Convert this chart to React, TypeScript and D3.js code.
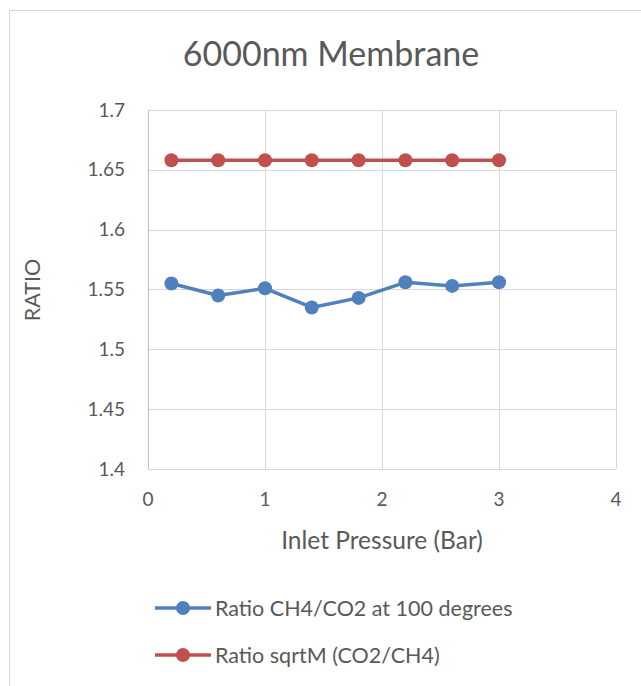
import React, { useEffect, useRef } from "react";
import * as d3 from "d3";

const pressure = [0.2, 0.6, 1.0, 1.4, 1.8, 2.2, 2.6, 3.0];
const ratioMeasured = [1.555, 1.545, 1.551, 1.535, 1.543, 1.556, 1.553, 1.556];
const ratioSqrtM = [1.658, 1.658, 1.658, 1.658, 1.658, 1.658, 1.658, 1.658];
const xTicks = [0, 1, 2, 3, 4];
const yTicks = [1.4, 1.45, 1.5, 1.55, 1.6, 1.65, 1.7];
const seriesNames = ["Ratio CH4/CO2 at 100 degrees", "Ratio sqrtM (CO2/CH4)"];
const seriesColors = ["#4f81bd", "#c0504d"];

const App: React.FC = () => {
  const svgRef = useRef<SVGSVGElement | null>(null);

  useEffect(() => {
    d3.select(svgRef.current).selectAll("*").remove();

    const w = 641;
    const h = 686;
    const m = { top: 110, right: 25, bottom: 217, left: 148 };
    const font = "Lato, 'Open Sans', sans-serif";
    const textColor = "#595959";

    const svg = d3
      .select(svgRef.current)
      .attr("width", w)
      .attr("height", h)
      .style("background-color", "#ffffff");

    // outer frame (runs off the right / bottom edge)
    svg.append("rect")
      .attr("x", 9.5)
      .attr("y", 10.5)
      .attr("width", w + 20)
      .attr("height", h + 20)
      .attr("fill", "none")
      .attr("stroke", "#d9d9d9");

    const x = d3.scaleLinear().domain([0, 4]).range([m.left, 616]);
    const y = d3.scaleLinear().domain([1.4, 1.7]).range([469, m.top]);

    // title
    svg.append("text")
      .attr("x", 331)
      .attr("y", 66)
      .attr("text-anchor", "middle")
      .style("font-family", font)
      .style("font-size", "34px")
      .attr("fill", textColor)
      .text("6000nm Membrane");

    // gridlines
    svg.append("g")
      .selectAll("line.h")
      .data(yTicks)
      .enter()
      .append("line")
      .attr("x1", x(0))
      .attr("x2", x(4))
      .attr("y1", d => Math.round(y(d)) + 0.5)
      .attr("y2", d => Math.round(y(d)) + 0.5)
      .attr("stroke", "#d9d9d9");

    svg.append("g")
      .selectAll("line.v")
      .data(xTicks)
      .enter()
      .append("line")
      .attr("x1", d => Math.round(x(d)) + 0.5)
      .attr("x2", d => Math.round(x(d)) + 0.5)
      .attr("y1", y(1.7))
      .attr("y2", y(1.4))
      .attr("stroke", d => (d === 0 ? "#bfbfbf" : "#d9d9d9"));

    // tick labels
    svg.append("g")
      .selectAll("text")
      .data(yTicks)
      .enter()
      .append("text")
      .attr("x", 125)
      .attr("y", d => y(d))
      .attr("dy", "0.35em")
      .attr("text-anchor", "end")
      .style("font-family", font)
      .style("font-size", "19px")
      .attr("fill", textColor)
      .text(d => d3.format("")(+d.toFixed(2)));

    svg.append("g")
      .selectAll("text")
      .data(xTicks)
      .enter()
      .append("text")
      .attr("x", d => x(d))
      .attr("y", 506)
      .attr("text-anchor", "middle")
      .style("font-family", font)
      .style("font-size", "19px")
      .attr("fill", textColor)
      .text(d => d);

    // axis titles
    svg.append("text")
      .attr("x", 382)
      .attr("y", 549)
      .attr("text-anchor", "middle")
      .style("font-family", font)
      .style("font-size", "24.5px")
      .attr("fill", textColor)
      .text("Inlet Pressure (Bar)");

    svg.append("text")
      .attr("transform", "rotate(-90)")
      .attr("x", -290)
      .attr("y", 40)
      .attr("text-anchor", "middle")
      .style("font-family", font)
      .style("font-size", "21.5px")
      .attr("fill", textColor)
      .text("RATIO");

    // series
    const series = [ratioMeasured, ratioSqrtM];
    const line = d3.line<number>()
      .x((_, i) => x(pressure[i]))
      .y(d => y(d));

    series.forEach((vals, si) => {
      svg.append("path")
        .datum(vals)
        .attr("d", line)
        .attr("fill", "none")
        .attr("stroke", seriesColors[si])
        .attr("stroke-width", 3.5)
        .attr("stroke-linejoin", "round");

      svg.append("g")
        .selectAll("circle")
        .data(vals)
        .enter()
        .append("circle")
        .attr("cx", (_, i) => x(pressure[i]))
        .attr("cy", d => y(d))
        .attr("r", 7)
        .attr("fill", seriesColors[si]);
    });

    // legend
    const legend = svg.append("g")
      .selectAll("g")
      .data(seriesNames)
      .enter()
      .append("g")
      .attr("transform", (_, i) => `translate(155, ${608 + i * 47})`);

    legend.append("line")
      .attr("x1", 0)
      .attr("x2", 56)
      .attr("stroke", (_, i) => seriesColors[i])
      .attr("stroke-width", 3.5);

    legend.append("circle")
      .attr("cx", 28)
      .attr("r", 7)
      .attr("fill", (_, i) => seriesColors[i]);

    legend.append("text")
      .attr("x", 60)
      .attr("dy", "0.35em")
      .style("font-family", font)
      .style("font-size", "21.5px")
      .attr("fill", textColor)
      .text(d => d);
  }, []);

  return (
    <div style={{ position: "absolute", top: 0, left: 0 }}>
      <svg ref={svgRef} style={{ display: "block" }}></svg>
    </div>
  );
};

export default App;
